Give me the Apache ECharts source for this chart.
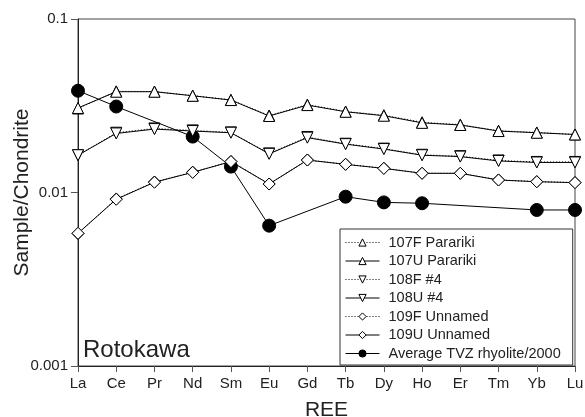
<!DOCTYPE html>
<html><head><meta charset="utf-8">
<script src="https://cdn.jsdelivr.net/npm/echarts@6/dist/echarts.min.js"></script>
<style>html,body{margin:0;padding:0;background:#fff}#c{width:585px;height:417px}</style>
</head><body><div id="c"></div>
<script>
var categories = ['La','Ce','Pr','Nd','Sm','Eu','Gd','Tb','Dy','Ho','Er','Tm','Yb','Lu'];
var s107F = [0.0305,0.0383,0.0382,0.0362,0.0342,0.0278,0.0321,0.0293,0.0279,0.0254,0.0246,0.0227,0.0222,0.0216];
var s107U = [0.0307,0.0381,0.0381,0.0361,0.0341,0.0276,0.0319,0.0292,0.0277,0.0252,0.0245,0.0226,0.0221,0.0216];
var s108F = [0.0164,0.0221,0.0234,0.0228,0.0222,0.0168,0.0209,0.0191,0.0179,0.0165,0.0162,0.0153,0.0150,0.0150];
var s108U = [0.0164,0.0219,0.0232,0.0226,0.0221,0.0167,0.0207,0.0190,0.0178,0.0164,0.0161,0.0152,0.0149,0.0149];
var s109F = [0.00580,0.00918,0.01150,0.01310,0.01510,0.01120,0.01540,0.01455,0.01380,0.01292,0.01290,0.01182,0.01155,0.01141];
var s109U = [0.00582,0.00914,0.01146,0.01306,0.01507,0.01119,0.01538,0.01453,0.01377,0.01290,0.01290,0.01180,0.01154,0.01140];
var avgTVZ = [0.0386,0.0313,null,0.0210,0.0141,0.00644,null,0.00946,0.00877,0.00867,null,null,0.00793,0.00793];
var yTicks = [0.001,0.01,0.1];
var names = ['107F Parariki','107U Parariki','108F #4','108U #4','109F Unnamed','109U Unnamed','Average TVZ rhyolite/2000'];

function mk(name, data, symbol, size, dotted, rot, filled) {
  return {
    name: name, type: 'line', data: data, symbol: symbol, symbolSize: size,
    symbolRotate: rot || 0, connectNulls: true, color: '#000',
    lineStyle: {color: '#000', width: 1, type: dotted ? [1, 2] : 'solid'},
    itemStyle: {color: filled ? '#000' : '#fff', borderColor: '#000', borderWidth: 1},
    emphasis: {disabled: true}, animation: false, z: filled ? 1 : 2
  };
}
var chart = echarts.init(document.getElementById('c'));
chart.setOption({
  animation: false,
  textStyle: {fontFamily: 'Liberation Sans'},
  grid: {left: 78, right: 10, top: 19, bottom: 51, show: true, borderColor: '#444', borderWidth: 1,
         containLabel: false, outerBoundsMode: 'none'},
  xAxis: {
    type: 'category', data: categories, boundaryGap: false,
    name: 'REE', nameLocation: 'middle', nameGap: 34, nameMoveOverlap: false,
    nameTextStyle: {fontSize: 21, color: '#222'},
    axisLine: {lineStyle: {color: '#222'}},
    axisTick: {show: true, length: 6, lineStyle: {color: '#555'}},
    axisLabel: {fontSize: 15, color: '#222', margin: 10},
    splitLine: {show: false}
  },
  yAxis: {
    type: 'log', logBase: 10, min: 0.001, max: 0.1,
    name: 'Sample/Chondrite', nameLocation: 'middle', nameGap: 45, nameMoveOverlap: false,
    nameTextStyle: {fontSize: 21, color: '#222'},
    axisLine: {show: true, lineStyle: {color: '#222'}},
    axisTick: {show: true, length: 7, lineStyle: {color: '#555'}},
    axisLabel: {fontSize: 15, color: '#222', margin: 10, formatter: function (v) {
      for (var i = 0; i < yTicks.length; i++) { if (Math.abs(v - yTicks[i]) / yTicks[i] < 1e-6) return String(yTicks[i]); }
      return '';
    }},
    splitLine: {show: false}, minorTick: {show: false}
  },
  legend: {
    orient: 'vertical', left: 340, top: 229,
    data: names, itemWidth: 34, itemHeight: 9, itemGap: 3.5,
    borderColor: '#333', borderWidth: 1, padding: [6, 12, 4, 5],
    itemStyle: {borderWidth: 1},
    lineStyle: {width: 1, type: 'inherit', color: '#000'},
    textStyle: {fontSize: 14.5, lineHeight: 14, color: '#222', fontFamily: 'Liberation Sans', padding: [0, 0, 0, 4]},
    selectedMode: false
  },
  graphic: [{type: 'text', left: 83, top: 338, style: {text: 'Rotokawa', fontSize: 24, fill: '#222', fontFamily: 'Liberation Sans'}}],
  series: [
    mk(names[0], s107F, 'triangle', 11, true),
    mk(names[1], s107U, 'triangle', 11, false),
    mk(names[2], s108F, 'triangle', 11, true, 180),
    mk(names[3], s108U, 'triangle', 11, false, 180),
    mk(names[4], s109F, 'diamond', 12, true),
    mk(names[5], s109U, 'diamond', 12, false),
    mk(names[6], avgTVZ, 'circle', 13, false, 0, true)
  ]
});
</script></body></html>
